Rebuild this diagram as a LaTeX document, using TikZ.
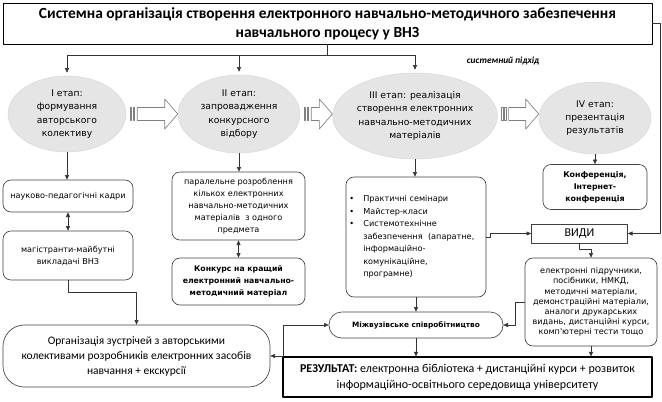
\documentclass[tikz,border=0pt]{standalone}
\usepackage{fontspec}
\setmainfont{Carlito}
\newfontfamily\vfont{DejaVu Sans}
\usetikzlibrary{shapes.geometric,arrows.meta,calc}
\newcommand{\itemdot}{\makebox[10.5pt][l]{\textbullet}}
\newcommand{\itemgap}{\hspace*{10.5pt}}

\begin{document}
\begin{tikzpicture}[x=0.75pt,y=-0.75pt,line join=round,
  box/.style={draw=black!75,line width=0.5pt,rounded corners=6pt,inner sep=1pt,align=center,font=\vfont\fontsize{6.1}{9}\selectfont},
  etap/.style={ellipse,fill=black!10,draw=black!15,inner sep=0pt,align=center,font=\vfont\fontsize{6.9}{10}\selectfont},
  arr/.style={-{Triangle[length=3.5pt,width=3pt]},line width=0.5pt,black!80},
  darr/.style={{Triangle[length=3.5pt,width=3pt]}-{Triangle[length=3.5pt,width=3pt]},line width=0.5pt,black!80},
  barrow/.style={draw=black!50,fill=white,line width=0.5pt}]
\useasboundingbox (0,0) rectangle (662,401);
\node[draw,line width=0.6pt,minimum width=486.75pt,minimum height=30.75pt,align=center,font=\bfseries\fontsize{11.6}{14}\selectfont] (title) at (327.5,23.5) {Системна організація створення електронного навчально-методичного забезпечення\\навчального процесу у ВНЗ};
\node[font=\bfseries\itshape\fontsize{7}{9}\selectfont] (approach) at (503,61) {системний підхід};
\node[etap,minimum width=88.5pt,minimum height=57pt] (e1) at (67,114) {I етап:\\формування\\авторського\\колективу};
\node[etap,minimum width=91.5pt,minimum height=58.5pt] (e2) at (239,114) {II етап:\\запровадження\\конкурсного\\відбору};
\node[etap,minimum width=117pt,minimum height=64.5pt] (e3) at (415,116) {III етап: реалізація\\створення електронних\\навчально-методичних\\матеріалів};
\node[etap,minimum width=84pt,minimum height=54pt] (e4) at (595,118) {IV етап:\\презентація\\результатів};
\node[box,minimum width=97.5pt,minimum height=24pt] (b1) at (68,196) {науково-педагогічні кадри};
\node[box,minimum width=97.5pt,minimum height=36.75pt] (b2) at (68,255.5) {магістранти-майбутні\\викладачі ВНЗ};
\node[box,minimum width=99.75pt,minimum height=51pt] (b3) at (238.5,206) {паралельне розроблення\\кількох електронних\\навчально-методичних\\матеріалів\ \ з одного\\предмета};
\node[box,minimum width=99.75pt,minimum height=35.25pt,font=\vfont\bfseries\fontsize{5.8}{9}\selectfont] (b4) at (238.5,281.5) {Конкурс на кращий\\електронний навчально-\\методичний матеріал};
\node[box,minimum width=105pt,minimum height=90pt,text width=100pt,align=left,font=\vfont\fontsize{6.1}{9.4}\selectfont] (b5) at (416,237) {\itemdot Практичні семінари\\\itemdot Майстер-класи\\\itemdot Системотехнічне\\\itemgap забезпечення\ \ (апаратне,\\\itemgap інформаційно-\\\itemgap комунікаційне,\\\itemgap програмне)};
\node[box,minimum width=78pt,minimum height=33.75pt,font=\vfont\bfseries\fontsize{5.9}{9}\selectfont] (konf) at (595,187) {Конференція,\\Інтернет-\\конференція};
\node[draw=black!75,line width=0.5pt,minimum width=72pt,minimum height=14.25pt,inner sep=0pt,font=\fontsize{9}{11}\selectfont] (vydy) at (579.5,233.5) {ВИДИ};
\node[box,minimum width=99pt,minimum height=66pt,font=\vfont\fontsize{6.1}{7.6}\selectfont] (b6) at (591,302) {електронні підручники,\\посібники, НМКД,\\методичні матеріали,\\демонстраційні матеріали,\\аналоги друкарських\\видань, дистанційні курси,\\комп'ютерні тести тощо};
\node[box,minimum width=130.5pt,minimum height=19.5pt,rounded corners=9.5pt,font=\vfont\bfseries\fontsize{5.5}{7}\selectfont] (mizh) at (416,325) {Міжвузівське співробітництво};
\node[box,minimum width=200.25pt,minimum height=46.5pt,rounded corners=16pt,font=\fontsize{8.6}{11.25}\selectfont] (org) at (136.5,356) {Організація зустрічей з авторськими\\колективами розробників електронних засобів\\навчання + екскурсії};
\node[draw,line width=0.8pt,minimum width=276.75pt,minimum height=30pt,align=center,font=\fontsize{9}{12}\selectfont] (res) at (467.5,377) {\textbf{РЕЗУЛЬТАТ:} електронна бібліотека + дистанційні курси + розвиток\\інформаційно-освітнього середовища університету};
\coordinate (split) at (327.5,55);
\draw[line width=0.5pt,black!80] (title.south) -- (split) (split -| e1.north) -- (split -| e3.north);
\foreach \e in {e1,e2,e3}{\draw[arr] (split -| \e.north) -- ($(\e.north)+(0,-3)$);}
\foreach \a/\b in {e1/e2,e2/e3,e3/e4}{
  \coordinate (s) at ($(\a.east)+(4,0)$);
  \coordinate (t) at (\b.west |- 0,114);
  \coordinate (s) at (s |- t);
  \draw[barrow] ($(s)+(0,-6.5)$) rectangle ($(s)+(1.5,6.5)$) ($(s)+(3,-6.5)$) rectangle ($(s)+(4.5,6.5)$);
  \draw[barrow] ($(s)+(7,-6.5)$) -- ($(t)+(-13,-6.5)$) -- ($(t)+(-13,-15)$) -- (t) -- ($(t)+(-13,15)$) -- ($(t)+(-13,6.5)$) -- ($(s)+(7,6.5)$) -- cycle;}
\draw[arr] (e1.south) -- (e1.south |- b1.north);
\draw[arr] (e2.south) -- (e2.south |- b3.north);
\draw[arr] (e3.south) -- (e3.south |- b5.north);
\draw[arr] (e4.south) -- (e4.south |- konf.north);
\draw[darr] (b1.south) -- (b1.south |- b2.north);
\draw[darr] (b3.south) -- (b3.south |- b4.north);
\draw[arr] (b2.south) -- ++(0,12) -| (org.north);
\draw[arr] (b5.south) -- (mizh.north);
\draw[arr] (mizh.south) -- (mizh.south |- res.north);
\draw[darr] (org.east) -- ++(13,0) |- (mizh.west);
\draw[arr] (b5.east) -- ++(4,0) |- (vydy.west);
\draw[arr] (title.east) -- ++(8,0) |- (vydy.east);
\draw[arr] (vydy.south) -- ++(0,6) -| (b6.north);
\draw[arr] (b6.west) -- ++(-9,0) |- (mizh.east);
\draw[arr] (b6.south) -- (b6.south |- res.north);
\end{tikzpicture}
\end{document}
